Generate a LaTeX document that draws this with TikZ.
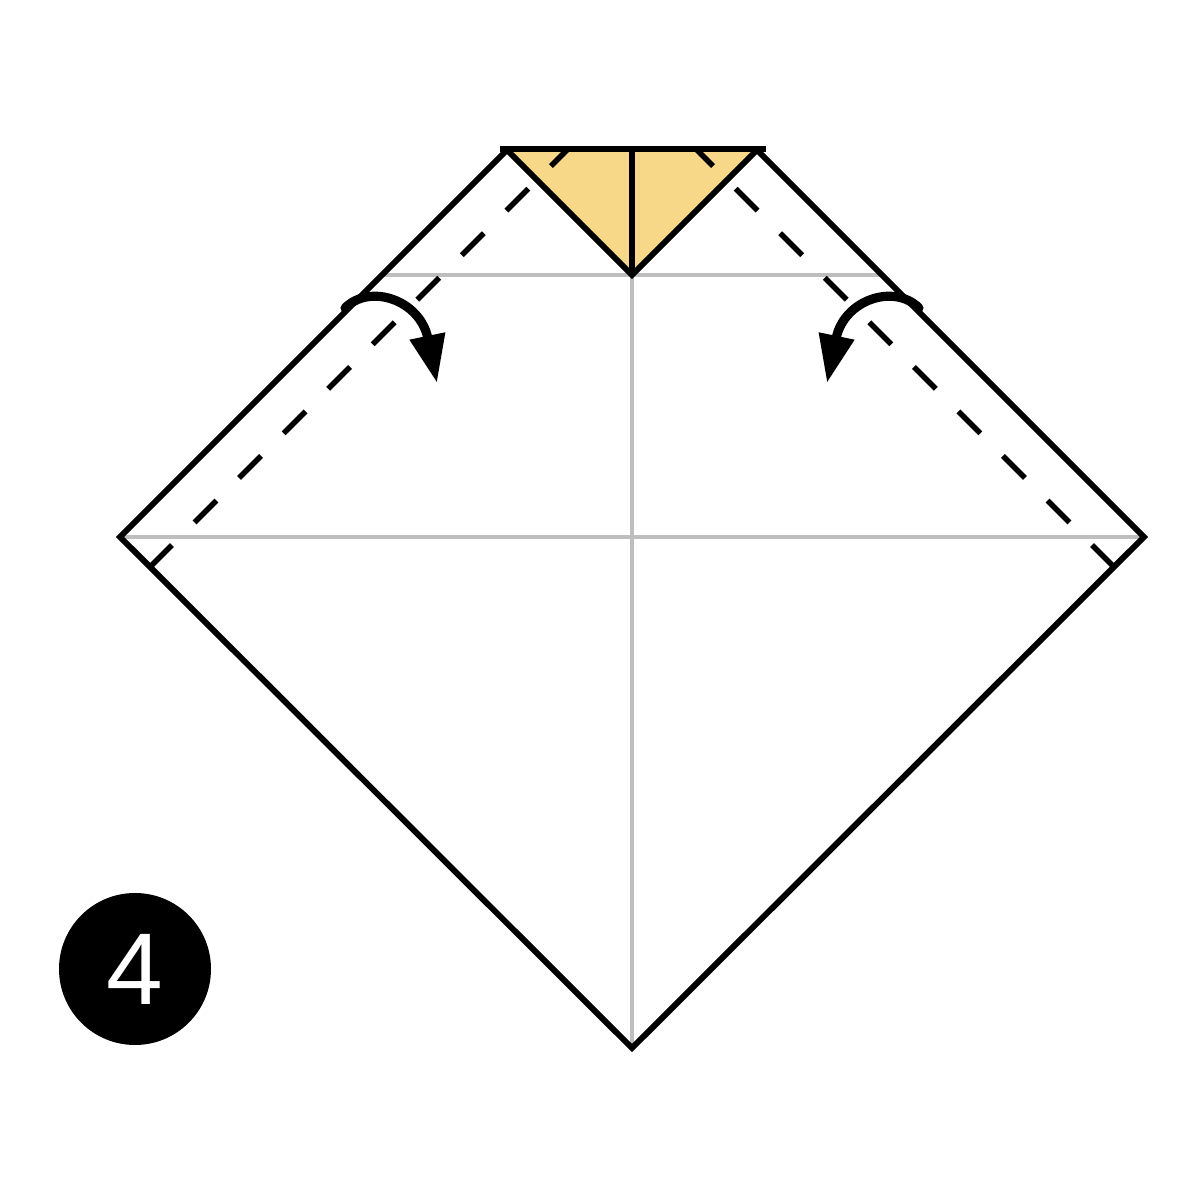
\documentclass[tikz,border=0pt]{standalone}
\usepackage{fontspec}
\newfontfamily\numfont{Liberation Sans}
\usetikzlibrary{arrows.meta, positioning}
\definecolor{flapyellow}{RGB}{247,216,136}
\definecolor{creasegray}{RGB}{190,190,190}

\begin{document}
\begin{tikzpicture}[>=Stealth,
		paper/.style={draw=black, line width=1.7pt, line join=miter},
		crease/.style={draw=creasegray, line width=1.2pt},
		valley/.style={draw=black, line width=1.6pt, dash pattern=on 3.1mm off 3.2mm},
		flap/.style={fill=flapyellow, draw=black, line width=1.7pt, line join=miter},
		turn/.style={line width=2.6pt, line cap=round, -{Triangle[length=4.8mm 0 0, width=3.4mm 0 0]}},
		badge/.style={circle, fill=black, minimum size=1.52cm, inner sep=0pt, text=white, font={\numfont\fontsize{29pt}{29pt}\selectfont}}]
		
		\useasboundingbox (0,0) rectangle (12,12);
		
		% Cantos do papel
		\coordinate (tl) at (5.07,10.50);
		\coordinate (tr) at (7.57,10.50);
		\coordinate (lc) at (1.20,6.63);
		\coordinate (rc) at (11.44,6.63);
		\coordinate (bc) at (6.32,1.52);
		\coordinate (apex) at (6.32,9.25);
		\coordinate (topmid) at (6.32,10.50);
		
		% Vincos cinzentos
		\draw[crease] (3.82,9.25) -- (8.82,9.25);
		\draw[crease] (lc) -- (rc);
		\draw[crease] (apex) -- (bc);
		
		% Aba amarela
		\fill[flapyellow] (tl) -- (apex) -- (tr) -- cycle;
		
		% Dobras tracejadas
		\coordinate (vl0) at (1.50,6.33);
		\coordinate (vl1) at (5.67,10.50);
		\coordinate (vr0) at (11.14,6.33);
		\coordinate (vr1) at (6.97,10.50);
		\draw[valley] (vl0) -- (vl1);
		\draw[valley] (vr0) -- (vr1);
		
		% Contorno
		\draw[paper] (tl) -- (lc) -- (bc) -- (rc) -- (tr);
		\draw[flap, fill=none] (tl) -- (apex) -- (tr);
		\draw[paper] (topmid) -- (apex);
		\draw[paper] (5.00,10.51) -- (7.66,10.51);
		
		% Setas
		\coordinate (s1) at (3.45,8.92);
		\coordinate (t1) at (4.37,8.17);
		\coordinate (s2) at (9.19,8.92);
		\coordinate (t2) at (8.27,8.17);
		\draw[turn] (s1) .. controls (3.70,9.17) and (4.20,9.00) .. (t1);
		\draw[turn] (s2) .. controls (8.94,9.17) and (8.44,9.00) .. (t2);
		
		% Passo
		\node[badge] (stepnum) at (1.35,2.31) {4};
	\end{tikzpicture}
\end{document}
